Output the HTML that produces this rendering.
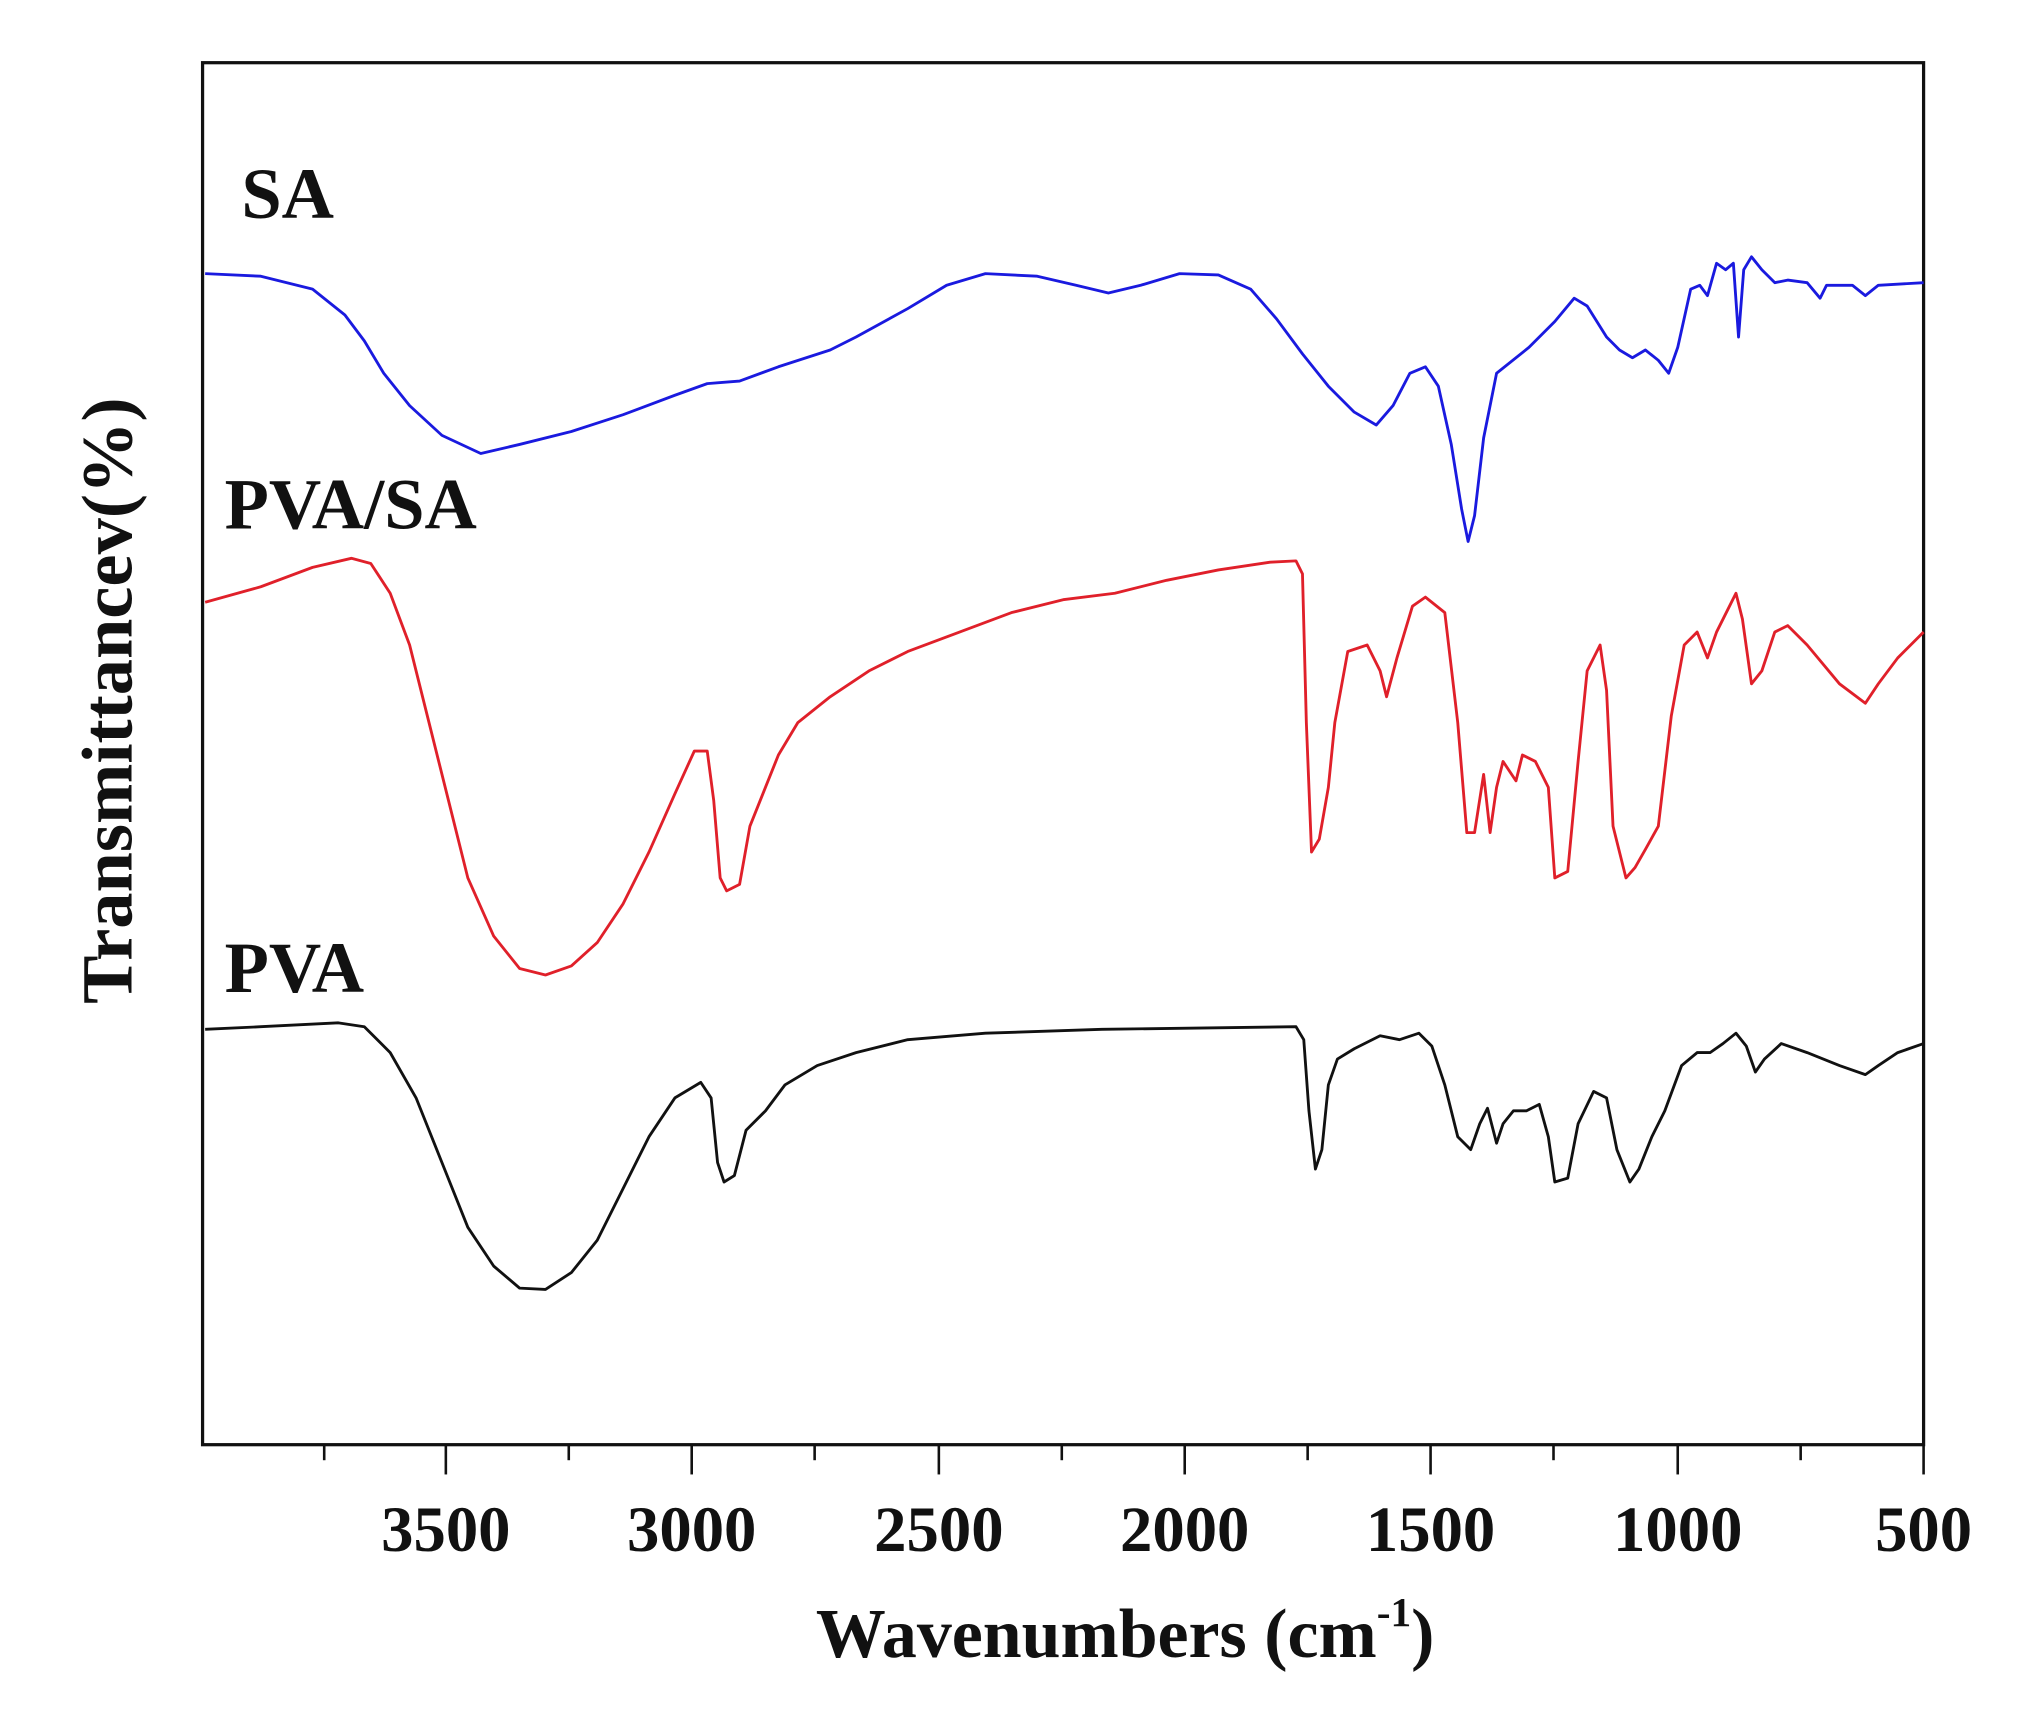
<!DOCTYPE html>
<html><head><meta charset="utf-8"><style>
html,body{margin:0;padding:0;background:#fff;}
svg{display:block;}
text{font-family:"Liberation Serif",serif;font-weight:bold;fill:#111;}
</style></head><body>
<svg width="2022" height="1709" viewBox="0 0 2022 1709">
<g transform="translate(2,-2) scale(1.294)">
<rect x="155" y="50" width="1330" height="1068" fill="none" stroke="#111" stroke-width="2.5"/>
<g stroke="#111" stroke-width="2">
<line x1="249" y1="1118" x2="249" y2="1130"/>
<line x1="343" y1="1118" x2="343" y2="1141"/>
<line x1="438" y1="1118" x2="438" y2="1130"/>
<line x1="533" y1="1118" x2="533" y2="1141"/>
<line x1="628" y1="1118" x2="628" y2="1130"/>
<line x1="724" y1="1118" x2="724" y2="1141"/>
<line x1="819" y1="1118" x2="819" y2="1130"/>
<line x1="914" y1="1118" x2="914" y2="1141"/>
<line x1="1009" y1="1118" x2="1009" y2="1130"/>
<line x1="1104" y1="1118" x2="1104" y2="1141"/>
<line x1="1199" y1="1118" x2="1199" y2="1130"/>
<line x1="1295" y1="1118" x2="1295" y2="1141"/>
<line x1="1390" y1="1118" x2="1390" y2="1130"/>
<line x1="1485" y1="1118" x2="1485" y2="1141"/>
</g>
<g font-size="50" text-anchor="middle">
<text x="343" y="1200">3500</text>
<text x="533" y="1200">3000</text>
<text x="724" y="1200">2500</text>
<text x="914" y="1200">2000</text>
<text x="1104" y="1200">1500</text>
<text x="1295" y="1200">1000</text>
<text x="1485" y="1200">500</text>
</g>
<text x="868" y="1282" font-size="54" text-anchor="middle">Wavenumbers (cm<tspan dy="-24" font-size="32">-1</tspan><tspan dy="24">)</tspan></text>
<text transform="translate(100,543) rotate(-90)" font-size="56" text-anchor="middle">Transmittancev(%)</text>
<text x="185" y="170" font-size="56">SA</text>
<text x="172" y="410" font-size="56">PVA/SA</text>
<text x="172" y="768" font-size="56">PVA</text>
<g fill="none" stroke-width="2.2" stroke-linejoin="round">
<polyline stroke="#1a1adf" points="157,213 200,215 240,225 265,245 280,265 295,290 315,315 340,338 370,352 400,345 440,335 480,322 520,307 545,298 570,296 600,285 640,272 660,262 700,240 730,222 760,213 800,215 830,222 855,228 880,222 910,213 940,214 965,225 985,248 1005,275 1025,300 1045,320 1062,330 1075,315 1088,290 1100,285 1110,300 1120,345 1128,395 1133,420 1138,400 1145,340 1155,290 1180,270 1200,250 1215,232 1225,238 1240,262 1250,272 1260,278 1270,272 1280,280 1288,290 1295,270 1305,225 1312,222 1318,230 1325,205 1332,210 1338,205 1342,262 1346,210 1352,200 1360,210 1370,220 1380,218 1395,220 1405,232 1410,222 1430,222 1440,230 1450,222 1485,220"/>
<polyline stroke="#e0202a" points="157,467 200,455 240,440 270,433 285,437 300,460 315,500 330,560 345,620 360,680 380,725 400,750 420,755 440,748 460,730 480,700 500,660 520,615 535,582 545,582 550,620 555,680 560,690 570,685 578,640 590,610 600,585 615,560 640,540 670,520 700,505 740,490 780,475 820,465 860,460 900,450 940,442 980,436 1000,435 1005,445 1008,560 1012,660 1018,650 1025,610 1030,560 1040,505 1055,500 1065,520 1070,540 1078,510 1090,470 1100,463 1115,475 1125,560 1132,645 1138,645 1145,600 1150,645 1155,610 1160,590 1170,605 1175,585 1185,590 1195,610 1200,680 1210,675 1218,590 1225,520 1235,500 1240,535 1245,640 1255,680 1262,672 1270,658 1280,640 1290,555 1300,500 1310,490 1318,510 1325,490 1335,470 1340,460 1345,480 1352,530 1360,520 1370,490 1380,485 1395,500 1420,530 1440,545 1450,530 1465,510 1485,490"/>
<polyline stroke="#111" points="157,797 200,795 260,792 280,795 300,815 320,850 340,900 360,950 380,980 400,997 420,998 440,985 460,960 480,920 500,880 520,850 540,838 548,850 553,900 558,915 566,910 575,875 590,860 605,840 630,825 660,815 700,805 760,800 850,797 1000,795 1006,805 1010,860 1015,905 1020,890 1025,840 1032,820 1045,812 1065,802 1080,805 1095,800 1105,810 1115,840 1125,880 1135,890 1142,870 1148,858 1155,885 1160,870 1168,860 1178,860 1188,855 1195,880 1200,915 1210,912 1218,870 1230,845 1240,850 1248,890 1258,915 1265,905 1275,880 1285,860 1298,825 1310,815 1320,815 1330,808 1340,800 1348,810 1355,830 1362,820 1375,808 1395,815 1420,825 1440,832 1450,825 1465,815 1485,808"/>
</g>
</g>
</svg>
</body></html>
